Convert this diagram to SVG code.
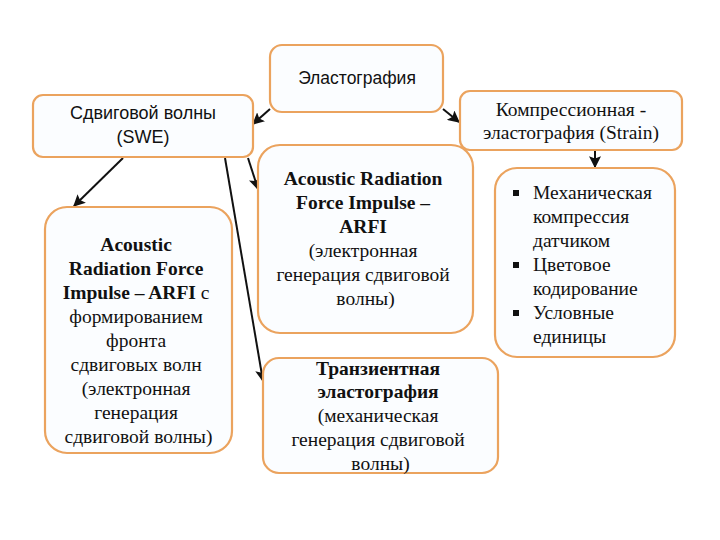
<svg xmlns="http://www.w3.org/2000/svg" width="720" height="540" viewBox="0 0 720 540">
<style>
.box{fill:#fbfdff;stroke:#eba35e;stroke-width:2.2}
.sans{font-family:"Liberation Sans","Noto Sans",sans-serif;fill:#111}
.serif{font-family:"Liberation Serif","Times New Roman",serif;font-size:19.5px;fill:#111}
.b{font-weight:bold}
.conn{stroke:#111;stroke-width:2;fill:none;marker-end:url(#ah)}
</style>
<defs>
<marker id="ah" viewBox="0 0 10 10" refX="9" refY="5" markerWidth="6" markerHeight="6" orient="auto" markerUnits="strokeWidth">
<path d="M0,0 L10,5 L0,10 L2,5 z" fill="#111"/>
</marker>
</defs>
<rect width="720" height="540" fill="#fff"/>
<g id="connectors">
<line class="conn" x1="270" y1="109" x2="253" y2="124"/>
<line class="conn" x1="443" y1="109" x2="459" y2="122"/>
<line class="conn" x1="123" y1="158" x2="74" y2="206"/>
<line class="conn" x1="225" y1="158" x2="263" y2="381"/>
<line class="conn" x1="248" y1="158" x2="258" y2="189"/>
<line class="conn" x1="595" y1="151" x2="595" y2="167"/>
</g>
<g id="elastography">
<rect class="box" x="270" y="45" width="173" height="67" rx="12"/>
<text class="sans" x="357" y="84" font-size="17.5" text-anchor="middle">Эластография</text>
</g>
<g id="swe">
<rect class="box" x="33" y="95" width="220" height="62" rx="10"/>
<text class="sans" x="143" y="119" font-size="18" text-anchor="middle">Сдвиговой волны</text>
<text class="sans" x="143" y="143" font-size="18" text-anchor="middle">(SWE)</text>
</g>
<g id="strain">
<rect class="box" x="460" y="91" width="222" height="59" rx="10"/>
<text class="serif" x="571" y="116" text-anchor="middle">Компрессионная -</text>
<text class="serif" x="571" y="139" text-anchor="middle">эластография (Strain)</text>
</g>
<g id="arfi-front">
<rect class="box" x="45" y="207" width="187" height="246" rx="22"/>
<text class="serif" text-anchor="middle">
<tspan class="b" x="138.5" y="251">Acoustic</tspan>
<tspan class="b" x="138.5" y="275">Radiation Force</tspan>
<tspan x="138.5" y="299"><tspan class="b">Impulse – ARFI</tspan> с</tspan>
<tspan x="138.5" y="323">формированием</tspan>
<tspan x="138.5" y="347">фронта</tspan>
<tspan x="138.5" y="371">сдвиговых волн</tspan>
<tspan x="138.5" y="395">(электронная</tspan>
<tspan x="138.5" y="419">генерация</tspan>
<tspan x="138.5" y="443">сдвиговой волны)</tspan>
</text>
</g>
<g id="arfi">
<rect class="box" x="258" y="145" width="215" height="188" rx="22"/>
<text class="serif" text-anchor="middle">
<tspan class="b" x="365.5" y="185">Acoustic Radiation</tspan>
<tspan class="b" x="365.5" y="209">Force Impulse –</tspan>
<tspan class="b" x="365.5" y="233">ARFI</tspan>
<tspan x="365.5" y="257">(электронная</tspan>
<tspan x="365.5" y="281">генерация сдвиговой</tspan>
<tspan x="365.5" y="305">волны)</tspan>
</text>
</g>
<g id="transient">
<rect class="box" x="263" y="358" width="235" height="115" rx="16"/>
<text class="serif" text-anchor="middle">
<tspan class="b" x="380.5" y="375">Транзиентная</tspan>
<tspan class="b" x="380.5" y="398">эластография</tspan>
<tspan x="380.5" y="422">(механическая</tspan>
<tspan x="380.5" y="446">генерация сдвиговой</tspan>
<tspan x="380.5" y="470">волны)</tspan>
</text>
</g>
<g id="strain-list">
<rect class="box" x="495" y="168" width="180" height="189" rx="22"/>
<rect x="513" y="190" width="6" height="6" fill="#111"/>
<rect x="513" y="262" width="6" height="6" fill="#111"/>
<rect x="513" y="310" width="6" height="6" fill="#111"/>
<text class="serif">
<tspan x="533" y="199">Механическая</tspan>
<tspan x="533" y="223">компрессия</tspan>
<tspan x="533" y="247">датчиком</tspan>
<tspan x="533" y="271">Цветовое</tspan>
<tspan x="533" y="295">кодирование</tspan>
<tspan x="533" y="319">Условные</tspan>
<tspan x="533" y="343">единицы</tspan>
</text>
</g>
</svg>
